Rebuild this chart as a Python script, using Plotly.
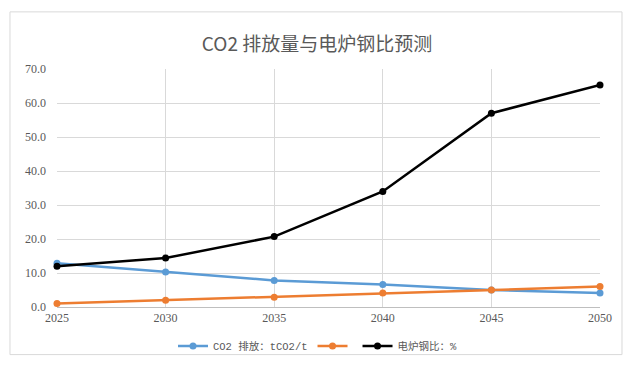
import plotly.graph_objects as go

years = [2025, 2030, 2035, 2040, 2045, 2050]
co2_emission = [12.9, 10.3, 7.8, 6.6, 5.0, 4.1]
orange_series = [1.0, 2.0, 2.9, 4.1, 5.0, 6.0]
eaf_ratio = [12.0, 14.4, 20.7, 34.0, 57.0, 65.3]

names = ["CO2 排放：tCO2/t", "", "电炉钢比：%"]
colors = ["#5B9BD5", "#ED7D31", "#000000"]
series = [co2_emission, orange_series, eaf_ratio]
y_ticks = [0, 10, 20, 30, 40, 50, 60, 70]

fig = go.Figure()
for name, color, vals in zip(names, colors, series):
    fig.add_trace(go.Scatter(
        x=years, y=vals, name=name, mode="lines+markers",
        line=dict(color=color, width=2.5),
        marker=dict(color=color, size=7, symbol="circle"),
        cliponaxis=False,
    ))

fig.update_layout(
    width=639, height=369,
    margin=dict(l=57, r=39, t=69, b=62, autoexpand=False),
    paper_bgcolor="white", plot_bgcolor="white",
    title=dict(text="CO2 排放量与电炉钢比预测", x=317 / 639, xref="container", xanchor="center",
               y=1 - 44 / 369, yref="container", yanchor="middle",
               font=dict(family="Noto Sans CJK SC", size=19, color="#595959")),
    showlegend=True,
    legend=dict(orientation="h", x=318 / 639, xref="container", xanchor="center",
                y=1 - 346 / 369, yref="container", yanchor="middle",
                font=dict(family="Liberation Mono, Noto Sans CJK SC", size=10.5, color="#595959"),
                bgcolor="rgba(0,0,0,0)"),
    font=dict(family="Liberation Serif, Noto Sans CJK SC", color="#595959"),
    shapes=[dict(type="rect", xref="paper", yref="paper",
                 x0=-0.0866, x1=1.0405, y0=-0.2, y1=1.24,
                 line=dict(color="#d9d9d9", width=1), fillcolor="rgba(0,0,0,0)", layer="below")],
)

fig.update_xaxes(range=[2025, 2050], tickvals=years, ticktext=[str(y) for y in years],
                 showgrid=True, gridcolor="#d9d9d9", gridwidth=1,
                 showline=True, linecolor="#bfbfbf", linewidth=1,
                 zeroline=False, ticks="", automargin=False,
                 tickfont=dict(family="Liberation Serif", size=12, color="#595959"))
fig.update_yaxes(range=[0, 70], tickvals=y_ticks, tickformat=".1f",
                 showgrid=True, gridcolor="#d9d9d9", gridwidth=1,
                 showline=False, zeroline=False, ticks="", automargin=False,
                 ticklabelstandoff=10,
                 tickfont=dict(family="Liberation Serif", size=12, color="#595959"))

fig.write_html("out.html", config={"displayModeBar": False},
               post_script="document.body.style.margin='0px';")
